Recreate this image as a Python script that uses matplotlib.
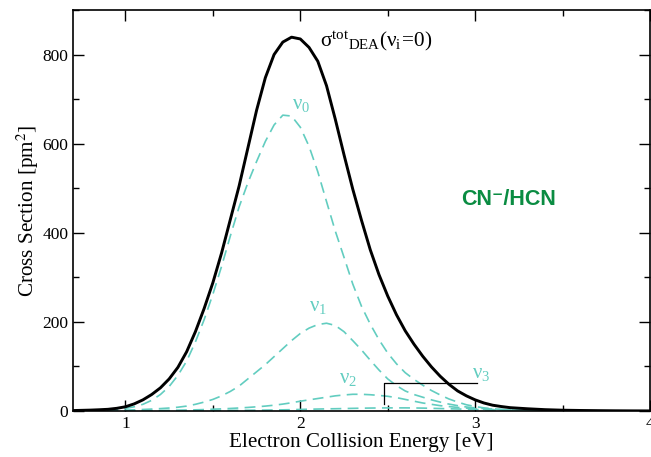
import matplotlib
matplotlib.use("Agg")
import matplotlib.pyplot as plt
from matplotlib.ticker import MultipleLocator

plt.rcParams['font.family'] = ['Liberation Serif', 'DejaVu Serif']
plt.rcParams['mathtext.fontset'] = 'stix'

energy = [0.70, 0.75, 0.80, 0.85, 0.90, 0.95, 1.00, 1.05, 1.10, 1.15,
          1.20, 1.25, 1.30, 1.35, 1.40, 1.45, 1.50, 1.55, 1.60, 1.65,
          1.70, 1.75, 1.80, 1.85, 1.90, 1.95, 2.00, 2.05, 2.10, 2.15,
          2.20, 2.25, 2.30, 2.35, 2.40, 2.45, 2.50, 2.55, 2.60, 2.65,
          2.70, 2.75, 2.80, 2.85, 2.90, 2.95, 3.00, 3.05, 3.10, 3.15,
          3.20, 3.30, 3.40, 3.50, 3.60, 3.70, 3.80, 3.90, 4.00]

sigma_total = [1, 1.5, 2, 2.8, 3.8, 6, 9.5, 16, 25, 37,
               52, 72, 98, 133, 178, 230, 288, 355, 430, 505,
               590, 675, 748, 800, 828, 839, 835, 816, 785, 730,
               655, 575, 498, 428, 362, 306, 258, 216, 180, 150,
               123, 99, 78, 60, 45, 34, 25, 18, 13, 10,
               7.5, 5, 3, 1.8, 1.2, 0.8, 0.5, 0.3, 0.2]

sigma_v0 = [0.3, 0.6, 1, 1.6, 2.5, 4, 6, 9.5, 15, 24,
            37, 55, 80, 112, 155, 205, 262, 325, 393, 458,
            512, 560, 605, 642, 664, 662, 637, 594, 537, 470,
            404, 345, 285, 235, 195, 160, 130, 106, 86, 71,
            58, 46, 36, 27, 20, 14, 10, 7, 5, 3.5,
            2.5, 1.2, 0.6, 0.3, 0.1, 0, 0, 0, 0]

sigma_v1 = [0.2, 0.3, 0.5, 0.7, 1, 1.4, 2, 2.6, 3.4, 4.3,
            5.4, 6.7, 8.5, 11, 15, 20, 26, 34, 44, 56,
            72, 88, 104, 122, 140, 158, 174, 186, 194, 197,
            192, 178, 158, 137, 114, 92, 72, 57, 45, 37,
            31, 25, 20, 15.5, 12, 9, 7, 5.5, 4.3, 3.3,
            2.5, 1.4, 0.8, 0.4, 0.2, 0.1, 0, 0, 0]

sigma_v2 = [0, 0, 0.1, 0.1, 0.2, 0.3, 0.4, 0.5, 0.7, 0.9,
            1.1, 1.4, 1.7, 2.1, 2.6, 3.2, 4, 4.8, 5.7, 6.8,
            8, 9.4, 11, 13, 15.5, 18.5, 22, 25, 28, 31,
            34, 36, 37.5, 37.5, 36.5, 35, 33, 30, 26, 22,
            18, 15, 12, 10, 8, 6.5, 5, 4, 3.2, 2.5,
            2, 1.2, 0.7, 0.4, 0.2, 0.1, 0, 0, 0]

sigma_v3 = [0, 0, 0, 0, 0.1, 0.1, 0.2, 0.2, 0.3, 0.3,
            0.4, 0.5, 0.6, 0.7, 0.8, 0.9, 1, 1.15, 1.3, 1.45,
            1.6, 1.8, 2, 2.3, 2.6, 3, 3.5, 4, 4.4, 4.8,
            5.1, 5.5, 5.9, 6.3, 6.6, 6.8, 7, 7, 7, 6.8,
            6.5, 6, 5.5, 5, 4.5, 4, 3.5, 3, 2.5, 2.1,
            1.8, 1.2, 0.8, 0.5, 0.3, 0.2, 0.1, 0, 0]

teal = '#62cdc0'

fig = plt.figure(figsize=(6.51, 4.57), dpi=100)
ax = fig.add_axes([73/651, 46/457, 577/651, 401/457])

dash = (0, (6.5, 3.8))
for ys in (sigma_v3, sigma_v2, sigma_v1, sigma_v0):
    ax.plot(energy, ys, color=teal, lw=1.2, linestyle=dash)
ax.plot(energy, sigma_total, color='black', lw=2.1)

# v3 bracket annotation
ax.plot([2.477, 2.477, 3.008], [16, 63, 63], color='black', lw=0.9)

lab_kw = dict(color=teal, fontsize=15, ha='left', va='center')
ax.text(1.95, 688, r'$\mathregular{ν_0}$', **lab_kw)
ax.text(2.05, 234, r'$\mathregular{ν_1}$', **lab_kw)
ax.text(2.22, 74, r'$\mathregular{ν_2}$', **lab_kw)
ax.text(2.98, 84, r'$\mathregular{ν_3}$', **lab_kw)

ax.text(2.11, 830, r'$\mathregular{σ^{tot}{}_{DEA}(ν_i\!=\!0)}$',
        color='black', fontsize=15.3, ha='left', va='center')

ax.text(3.19, 475, 'CN\u207b/HCN', color='#0a8c42', fontsize=15.5,
        fontweight='bold', family=['Liberation Sans', 'DejaVu Sans'],
        ha='center', va='center')

ax.set_xlim(0.7, 4.0)
ax.set_ylim(0, 900)
ax.xaxis.set_major_locator(MultipleLocator(1))
ax.xaxis.set_minor_locator(MultipleLocator(0.5))
ax.yaxis.set_major_locator(MultipleLocator(200))
ax.yaxis.set_minor_locator(MultipleLocator(100))
ax.tick_params(which='both', direction='in', top=True, right=True,
               labelsize=12.5, width=1.0)
ax.tick_params(which='major', length=8, pad=3.5)
ax.tick_params(which='minor', length=4.5)
for s in ax.spines.values():
    s.set_linewidth(1.2)

ax.set_xlabel('Electron Collision Energy [eV]', fontsize=15.2, labelpad=1)
ax.set_ylabel(r'Cross Section [pm$^2$]', fontsize=15.2, labelpad=1)

fig.savefig('out.png', dpi=100)
